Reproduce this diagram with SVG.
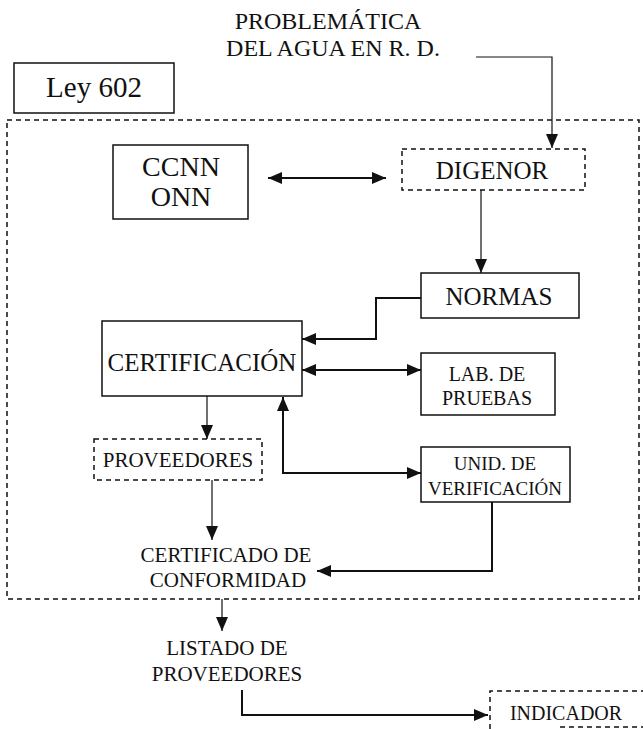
<svg xmlns="http://www.w3.org/2000/svg" width="643" height="729" viewBox="0 0 643 729">
<style>
text{font-family:"Liberation Serif","Times New Roman",serif;fill:#111;text-anchor:middle}
.box{fill:none;stroke:#111;stroke-width:1.5}
.dash{fill:none;stroke:#111;stroke-width:1.5;stroke-dasharray:5 4}
.c{fill:none;stroke:#111;stroke-width:1.2}
.ct{fill:none;stroke:#111;stroke-width:2}
</style>
<defs>
<marker id="ah" viewBox="0 0 14 12" refX="14" refY="6" markerWidth="14" markerHeight="12" markerUnits="userSpaceOnUse" orient="auto-start-reverse">
<path d="M0 0 L14 6 L0 12 Z" fill="#111"/>
</marker>
</defs>
<rect width="643" height="729" fill="#fff"/>
<g id="titulo">
<text x="328" y="29" font-size="24">PROBLEMÁTICA</text>
<text x="333" y="56" font-size="24">DEL AGUA EN R. D.</text>
</g>
<g id="ley602">
<rect class="box" x="14" y="63" width="160" height="50"/>
<text x="94" y="97" font-size="29">Ley 602</text>
</g>
<g id="marco">
<rect class="dash" x="7" y="120" width="632" height="479"/>
</g>
<g id="ccnn">
<rect class="box" x="113" y="145" width="135" height="74"/>
<text x="181" y="176" font-size="28">CCNN</text>
<text x="181" y="206" font-size="28">ONN</text>
</g>
<g id="digenor">
<rect class="dash" x="402" y="149" width="183" height="41"/>
<text x="492" y="179" font-size="25">DIGENOR</text>
</g>
<g id="normas">
<rect class="box" x="421" y="273" width="158" height="45"/>
<text x="499" y="305" font-size="25">NORMAS</text>
</g>
<g id="certificacion">
<rect class="box" x="102" y="321" width="200" height="75"/>
<text x="202" y="371" font-size="25">CERTIFICACIÓN</text>
</g>
<g id="lab">
<rect class="box" x="421" y="353" width="134" height="62"/>
<text x="487" y="381" font-size="20">LAB. DE</text>
<text x="487" y="405" font-size="20">PRUEBAS</text>
</g>
<g id="proveedores">
<rect class="dash" x="94" y="439" width="168" height="41"/>
<text x="178" y="467" font-size="21">PROVEEDORES</text>
</g>
<g id="unid">
<rect class="box" x="421" y="447" width="149" height="55"/>
<text x="495" y="470" font-size="19">UNID. DE</text>
<text x="495" y="495" font-size="19">VERIFICACIÓN</text>
</g>
<g id="certificado">
<text x="226" y="562" font-size="21">CERTIFICADO DE</text>
<text x="228" y="587" font-size="21">CONFORMIDAD</text>
</g>
<g id="listado">
<text x="227" y="655" font-size="21">LISTADO DE</text>
<text x="227" y="681" font-size="21">PROVEEDORES</text>
</g>
<g id="indicador">
<path class="dash" d="M490 729 V691 H645"/>
<path class="dash" d="M560 727 H645"/>
<text x="566" y="720" font-size="20">INDICADOR</text>
</g>
<g id="conectores">
<path class="c" d="M476 57 H552 V148" marker-end="url(#ah)"/>
<line class="ct" x1="268" y1="178" x2="386" y2="178" marker-start="url(#ah)" marker-end="url(#ah)"/>
<line class="c" x1="481" y1="190" x2="481" y2="273" marker-end="url(#ah)"/>
<path class="ct" d="M421 298 H376 V339 H302" marker-end="url(#ah)"/>
<line class="ct" x1="302" y1="370" x2="421" y2="370" marker-start="url(#ah)" marker-end="url(#ah)"/>
<line class="c" x1="207" y1="396" x2="207" y2="439" marker-end="url(#ah)"/>
<path class="ct" d="M283 397 V473 H421" marker-start="url(#ah)" marker-end="url(#ah)"/>
<line class="c" x1="212" y1="480" x2="212" y2="540" marker-end="url(#ah)"/>
<path class="ct" d="M492 502 V571 H317" marker-end="url(#ah)"/>
<line class="c" x1="222" y1="599" x2="222" y2="631" marker-end="url(#ah)"/>
<path class="ct" d="M242 690 V715 H488" marker-end="url(#ah)"/>
</g>
</svg>
